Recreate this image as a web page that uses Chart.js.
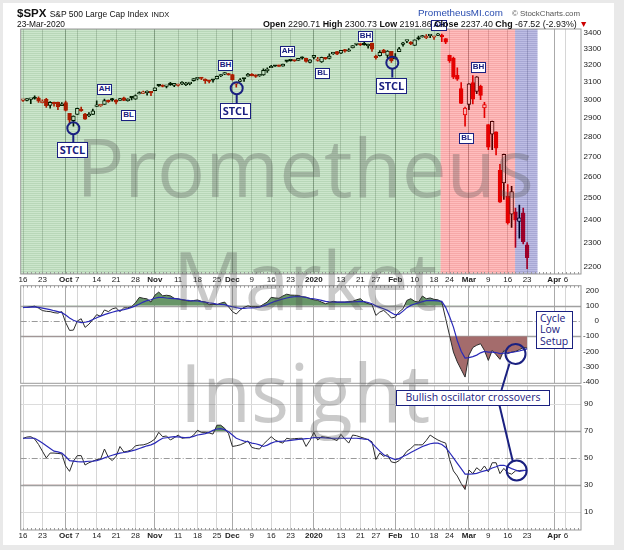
<!DOCTYPE html>
<html lang="en">
<head>
<meta charset="UTF-8">
<title>$SPX S&amp;P 500 Large Cap Index</title>
<script src="https://cdn.jsdelivr.net/npm/chart.js"></script>
<style>
  body { margin: 0; background: #e9e9e9; width: 624px; height: 550px; overflow: hidden; position: relative; }
  #frame { position: absolute; left: 3px; top: 3px; width: 611px; height: 542px; background: #fff; }
  canvas { position: absolute; left: 0; z-index: 1; }
  .t { position: absolute; white-space: nowrap; font-family: 'Liberation Sans', Arial, sans-serif; color: #111; z-index: 5; }
  .wm { position: absolute; left: 0; width: 610px; text-align: center; font-family: 'Open Sans', sans-serif;
        font-size: 80px; line-height: 80px; color: rgba(80, 80, 80, 0.3); z-index: 2; pointer-events: none; }
  #marks { position: absolute; left: 0; top: 0; z-index: 3; }
  .box { position: absolute; box-sizing: border-box; border: 1.5px solid #1a2080; background: #fff; color: #1a2080;
         font-family: 'Liberation Sans', Arial, sans-serif; font-weight: bold; text-align: center; z-index: 4; }
  .sm { width: 15px; height: 11px; font-size: 8px; line-height: 8px; }
  .stcl { width: 31px; height: 16px; font-size: 11px; line-height: 13px; font-family: 'Open Sans', sans-serif; }
  .note { font-family: 'Open Sans', sans-serif; font-weight: normal; font-size: 10.5px; }
</style>
</head>
<body>
<div id="frame"></div>

<div class="t" style="left:17px;top:7.6px;font-size:11.5px;line-height:11.5px"><b>$SPX</b> <span style="font-size:8.5px">S&amp;P 500 Large Cap Index</span> <span style="font-size:7.5px">INDX</span></div>
<div class="t" style="left:17px;top:20.2px;font-size:8.4px;line-height:8.4px">23-Mar-2020</div>
<div class="t" style="left:418px;top:8px;font-size:9.8px;line-height:9.8px;color:#2a4db0">PrometheusMI.com</div>
<div class="t" style="left:512px;top:9.5px;font-size:7.9px;line-height:7.9px;color:#555">&copy; StockCharts.com</div>
<div class="t" style="right:36px;top:19.8px;font-size:8.9px;line-height:8.9px"><b>Open</b> 2290.71 <b>High</b> 2300.73 <b>Low</b> 2191.86 <b>Close</b> 2237.40 <b>Chg</b> -67.52 (-2.93%) <span style="color:#c00">&#9660;</span></div>

<canvas id="price" width="624" height="288" style="top:0"></canvas>
<canvas id="cci" width="624" height="110" style="top:280px"></canvas>
<canvas id="rsi" width="624" height="172" style="top:378px"></canvas>

<div class="wm" style="top:126px">Prometheus</div>
<div class="wm" style="top:239px">Market</div>
<div class="wm" style="top:351px">Insight</div>

<svg id="marks" width="624" height="550">
  <g fill="none" stroke="#1a2080" stroke-width="2">
    <circle cx="73.3" cy="128.3" r="6"/><line x1="73.3" y1="134.3" x2="73.3" y2="142"/>
    <circle cx="236.7" cy="88.3" r="6"/><line x1="236.7" y1="94.3" x2="236.7" y2="103"/>
    <circle cx="392.3" cy="62.7" r="6"/><line x1="392.3" y1="68.7" x2="392.3" y2="77.5"/>
    <circle cx="515.5" cy="354" r="10"/>
    <circle cx="516.7" cy="470.5" r="10"/>
    <line x1="509.5" y1="363.5" x2="501.5" y2="390"/>
    <line x1="499.5" y1="405.5" x2="512.7" y2="461"/>
  </g>
</svg>

<div class="box sm" style="left:97px;top:84px">AH</div>
<div class="box sm" style="left:121px;top:110px">BL</div>
<div class="box stcl" style="left:57px;top:142px">STCL</div>
<div class="box sm" style="left:218px;top:60px">BH</div>
<div class="box stcl" style="left:220px;top:103px">STCL</div>
<div class="box sm" style="left:280px;top:46px">AH</div>
<div class="box sm" style="left:315px;top:68px">BL</div>
<div class="box sm" style="left:358px;top:31px">BH</div>
<div class="box stcl" style="left:376px;top:77.5px">STCL</div>
<div class="box sm" style="left:431px;top:20px;width:16px">AH</div>
<div class="box sm" style="left:471px;top:62px">BH</div>
<div class="box sm" style="left:459px;top:133px">BL</div>
<div class="box note" style="left:536px;top:311px;width:37px;height:37.5px;line-height:11.3px;text-align:left;padding:1px 0 0 3px">Cycle<br>Low<br>Setup</div>
<div class="box note" style="left:396px;top:389.5px;width:154px;height:16.5px;line-height:13px">Bullish oscillator crossovers</div>

<script>
// daily candles, 16-Sep-2019 .. 23-Mar-2020 (index = trading day)
const OPEN = [
  2996.4,2995.7,3001.5,3010.4,3008.4,2983.5,3002.4,2968.4,2985.7,2985.5,
  2967.1,2983.7,2924.8,2885.4,2918.6,2944.2,2920.4,2911.1,2918.6,2963.1,
  2965.8,2973.6,2989.7,3000.8,2996.8,2996.5,3010.7,2994.0,3014.8,3003.3,
  3032.1,3035.4,3039.7,3046.9,3050.7,3078.9,3080.8,3075.1,3087.0,3081.3,
  3080.3,3089.3,3084.2,3090.8,3107.9,3117.9,3127.5,3111.4,3108.5,3111.4,
  3117.4,3134.9,3145.5,3147.2,3143.9,3087.4,3103.5,3119.2,3134.6,3141.9,
  3135.4,3135.8,3141.2,3166.7,3183.6,3195.4,3195.2,3192.3,3223.3,3226.1,
  3225.5,3227.2,3247.2,3240.1,3215.2,3244.7,3226.4,3217.6,3241.9,3238.6,
  3266.0,3281.0,3271.1,3285.4,3282.3,3303.0,3323.7,3321.0,3330.0,3315.8,
  3333.1,3247.2,3255.4,3289.5,3256.5,3282.3,3235.7,3280.6,3324.9,3344.9,
  3335.5,3318.3,3365.9,3370.5,3365.9,3378.1,3369.0,3380.4,3380.5,3360.5,
  3257.6,3238.9,3139.9,3062.5,2916.9,2974.3,3096.5,3045.8,3075.7,2954.2,
  2863.9,2813.5,2825.6,2630.9,2570.0,2508.6,2425.7,2436.5,2393.5,2431.9,
  2290.7
];
const HIGH = [
  3002.2,3006.2,3007.8,3021.2,3016.4,2999.2,3007.3,2989.8,2987.3,2987.3,
  2983.9,2992.5,2924.8,2911.1,2953.7,2959.8,2925.5,2929.3,2948.5,2993.3,
  2972.8,3003.3,2997.5,3008.3,3000.0,3007.3,3014.6,3004.8,3016.1,3027.4,
  3044.1,3047.9,3050.1,3046.9,3066.9,3085.2,3083.9,3078.3,3097.8,3093.1,
  3088.3,3102.6,3098.1,3098.2,3120.5,3124.2,3127.6,3118.9,3110.1,3112.9,
  3133.8,3142.7,3154.3,3150.3,3144.3,3094.1,3119.4,3119.4,3150.6,3148.9,
  3142.1,3143.5,3176.3,3182.7,3197.7,3198.2,3198.5,3205.5,3225.6,3227.8,
  3226.4,3240.1,3247.9,3240.9,3231.7,3258.1,3246.2,3246.8,3244.9,3267.1,
  3275.6,3282.0,3288.1,3294.2,3298.7,3317.1,3329.9,3329.8,3337.8,3326.9,
  3333.2,3258.9,3285.8,3293.5,3285.9,3282.3,3268.4,3306.9,3337.6,3348.0,
  3341.4,3352.3,3375.6,3381.5,3385.1,3380.7,3375.0,3393.5,3389.2,3360.8,
  3259.8,3247.0,3182.5,3097.1,2959.7,3091.0,3136.7,3131.0,3083.0,2985.9,
  2863.9,2882.6,2825.6,2660.9,2711.3,2563.0,2553.9,2453.6,2467.0,2453.0,
  2300.7
];
const LOW = [
  2990.7,2993.7,2978.6,3003.2,2984.7,2982.2,2957.7,2952.9,2963.7,2945.5,
  2967.1,2938.7,2874.9,2855.9,2918.6,2935.7,2892.7,2907.4,2917.1,2963.1,
  2962.9,2973.6,2985.2,2991.8,2976.3,2995.4,2995.0,2991.2,2999.0,3001.9,
  3032.1,3034.8,3025.9,3023.2,3050.7,3074.9,3072.2,3065.9,3080.2,3073.6,
  3075.8,3084.7,3078.8,3083.3,3104.6,3112.1,3113.5,3091.4,3094.6,3099.3,
  3117.4,3131.0,3143.4,3139.3,3110.8,3070.3,3102.5,3103.8,3134.6,3135.5,
  3126.1,3133.2,3138.5,3156.5,3183.6,3191.0,3191.1,3192.3,3216.0,3222.3,
  3220.5,3227.2,3234.4,3216.6,3212.0,3235.5,3222.3,3214.6,3232.4,3236.7,
  3263.7,3260.9,3268.4,3277.2,3280.7,3302.8,3318.9,3316.6,3320.0,3301.9,
  3281.5,3234.5,3253.2,3271.9,3242.8,3214.7,3235.7,3280.6,3313.8,3334.4,
  3322.1,3317.8,3352.7,3369.7,3360.5,3366.2,3355.6,3378.8,3341.0,3328.5,
  3214.7,3118.8,3109.0,2977.4,2855.8,2945.2,2976.6,3034.4,2999.8,2901.5,
  2734.4,2734.0,2707.2,2478.9,2492.4,2380.9,2367.0,2280.5,2319.8,2295.6,
  2191.9
];
const CLOSE = [
  2998.0,3005.7,3006.7,3006.8,2992.1,2991.8,2966.6,2984.9,2977.6,2961.8,
  2976.7,2940.3,2887.6,2910.6,2952.0,2938.8,2893.1,2919.4,2938.1,2970.3,
  2966.2,2995.7,2989.7,2998.0,2986.2,3006.7,2996.0,3004.5,3010.3,3022.6,
  3039.4,3036.9,3046.8,3037.6,3066.9,3078.3,3074.6,3076.8,3085.2,3093.1,
  3087.0,3091.8,3094.0,3096.6,3120.5,3122.0,3120.2,3108.5,3103.5,3110.3,
  3133.6,3140.5,3153.6,3141.0,3113.9,3093.2,3112.8,3117.4,3145.9,3136.0,
  3132.5,3141.6,3168.6,3168.8,3191.5,3192.5,3191.1,3205.4,3221.2,3224.0,
  3223.4,3239.9,3240.0,3221.3,3230.8,3257.9,3234.9,3246.3,3237.2,3253.1,
  3274.7,3265.4,3288.1,3283.2,3289.3,3316.8,3329.6,3320.8,3321.8,3325.5,
  3295.5,3243.6,3276.2,3273.4,3283.7,3225.5,3248.9,3297.6,3334.7,3345.8,
  3327.7,3352.1,3357.8,3379.5,3373.9,3380.2,3370.3,3386.2,3373.2,3337.8,
  3225.9,3128.2,3116.4,2978.8,2954.2,3090.2,3003.4,3130.1,3023.9,2972.4,
  2746.6,2882.2,2741.4,2480.6,2711.0,2386.1,2529.2,2398.1,2409.4,2304.9,
  2237.4
];
const PREV_CLOSE = 3007.4;   // 13-Sep-2019, colours the first candle

// middle panel: oscillator (black) and its signal (blue)
const OSC = [
  88,90,94,98,85,69,64,62,55,52,
  62,-10,-62,-60,0,15,-42,-21,10,42,
  31,73,62,80,87,62,87,87,95,120,
  156,150,146,125,170,191,166,170,166,150,
  146,139,135,131,135,139,130,125,108,110,
  108,118,125,94,62,46,73,90,100,94,
  95,94,110,125,156,152,150,165,177,171,
  170,169,160,158,147,140,136,125,114,122,
  130,125,125,125,128,130,140,147,125,115,
  108,37,59,70,48,20,26,60,81,136,
  147,130,125,165,147,152,143,140,125,15,
  -95,-205,-270,-320,-370,-225,-175,-160,-150,-194,
  -260,-194,-222,-253,-195,-215,-205,-200,-190,-175,
  -178
];
const OSC_SIG = [
  90,90,92,93,90,85,80,75,68,62,
  55,40,20,5,-5,-10,-8,-2,10,22,
  32,42,50,58,65,70,75,82,90,100,
  112,125,135,140,150,156,155,152,150,148,
  146,142,138,135,133,132,128,125,120,116,
  112,110,108,100,94,88,83,84,86,87,
  88,92,100,108,120,130,138,145,152,157,
  160,162,160,155,150,147,142,136,130,127,
  125,125,125,125,125,126,128,130,128,122,
  114,100,90,81,70,55,40,45,65,88,
  103,112,120,128,134,136,135,133,130,90,
  30,-40,-130,-200,-245,-242,-235,-225,-210,-200,
  -205,-205,-208,-215,-212,-210,-207,-203,-198,-190,
  -184
];

// lower panel: RSI-style line (black) and its signal (blue)
const RSI = [
  64.5,65.5,65.8,64,60,55,50,53.6,53.6,53.3,
  53,44,40,47.6,51.7,51.7,44.7,46.4,47.5,48.8,
  49,56.6,50.5,48,51.2,58.5,54.4,55,56,59,
  59.5,59.7,60.5,62,64,69,65.8,66.3,63.3,65,
  67,64.6,65,65,67,70.5,69,69,68.5,67.7,
  74.3,74.3,72,68,58.5,59,59.7,61,62.6,57.8,
  57,56.6,60.2,63,65.8,63.3,62,61,64.6,64,
  64.3,64.5,64.6,58.5,63,69,63.3,65.8,65.4,65,
  64,62.9,67.5,64,61,67,66.5,65.5,64.6,63.5,
  62,48.8,53.6,51.2,52.4,47,46.4,48,51.2,54.9,
  57,59.7,59.7,59.7,63,67,65,63.3,62,61,
  48.8,40.3,36.5,31,26.5,41,38.3,42.7,40.3,44,
  39.6,46.4,46.4,38.3,42.2,39,37.9,40.3,40.6,40.8,
  40.3
];
const RSI_SIG = [
  64.6,64.6,64.8,64.6,63,61,59,57,55,54.5,
  53.6,51,48,47.6,47.2,47,47.2,47.5,47.6,48,
  48.8,50,51,52,52.8,53.6,54,54.5,55.2,56,
  57,58,59,59.7,61,63,64.6,65,65.4,65.8,
  65.6,65.3,65,65.2,66,67,67.5,68,69,70.5,
  71.5,71.8,71,69.4,67,64.6,63.5,62.5,62,61,
  60.5,59.7,58.5,59.5,61,62,62.3,62.4,62.6,63,
  63.4,63.8,64,64.3,64.6,65,65,65,64.8,64.6,
  64.6,64.6,64.6,64.6,64.6,64.6,64.6,64.4,64,63.8,
  61,58,55,52.4,51,49.8,48.8,49.5,51,52.4,
  54,55.5,57,58.5,59.5,60.5,61,61,60,57.8,
  54,50,46,42,38,37.9,38.1,38.5,39.5,40.3,
  41,42.5,43.4,44.5,44.5,43.4,42,41,40,40.5,
  41
];

// date axis (trading-day index of each label)
const TICK_IDX  = [0, 5, 11, 14, 19, 24, 29, 34, 40, 45, 50, 54, 59, 64, 69, 75, 82, 87, 91, 96, 101, 106, 110, 115, 120, 125, 130, 137, 140];
const TICK_TXT  = ['16','23','Oct','7','14','21','28','Nov','11','18','25','Dec','9','16','23','2020','13','21','27','Feb','10','18','24','Mar','9','16','23','Apr','6'];
const TICK_BOLD = TICK_TXT.map(t => isNaN(+t) || t === '2020');

const PRICE_TICKS = [2200, 2300, 2400, 2500, 2600, 2700, 2800, 2900, 3000, 3100, 3200, 3300, 3400];
const OSC_TICKS = [200, 100, 0, -100, -200, -300, -400];
const RSI_TICKS = [90, 70, 50, 30, 10];
const OSC_LEVELS = [100, 0, -100];
const RSI_LEVELS = [90, 70, 50, 30, 10];

// shaded phases on the price panel (in trading-day units)
const ZONE_FROM = [-0.6, 107.7, 126.9];
const ZONE_TO   = [107.7, 126.9, 132.7];

const FONT = "'Liberation Sans', Arial, sans-serif";
const X_MIN = -0.6, X_MAX = 143.9;
const RED = '#e00000', BLACK = '#000000';
const ZONE_BASE = ['rgba(0,128,0,0.20)', 'rgba(255,0,0,0.26)', 'rgba(0,0,150,0.26)'];
const ZONE_LINE = ['rgba(0,110,0,0.28)', 'rgba(230,0,0,0.34)', 'rgba(0,0,130,0.34)'];

function stripes(ctx, c1, c2) {
  const p = document.createElement('canvas');
  p.width = 4; p.height = 2;
  const g = p.getContext('2d');
  g.fillStyle = c1; g.fillRect(0, 0, 4, 1);
  g.fillStyle = c2; g.fillRect(0, 1, 4, 1);
  return ctx.createPattern(p, 'repeat');
}

const shadePlugin = {
  id: 'shade',
  afterDatasetsDraw(chart) {
    const {ctx, chartArea: a, scales: {x}} = chart;
    ctx.save();
    ctx.beginPath();
    ctx.rect(a.left, a.top, a.right - a.left, a.bottom - a.top);
    ctx.clip();
    ZONE_FROM.forEach((f, k) => {
      const x1 = x.getPixelForValue(f), x2 = x.getPixelForValue(ZONE_TO[k]);
      ctx.fillStyle = stripes(ctx, ZONE_BASE[k], ZONE_LINE[k]);
      ctx.fillRect(x1, a.top, x2 - x1, a.bottom - a.top);
    });
    ctx.restore();
  }
};

const levelPlugin = {
  id: 'levels',
  beforeDatasetsDraw(chart, args, opts) {
    const {ctx, chartArea: a, scales: {y}} = chart;
    (opts.values || []).forEach((v, k) => {
      const st = opts.styles[k];
      const py = Math.round(y.getPixelForValue(v)) + 0.5;
      ctx.save();
      ctx.strokeStyle = st.c; ctx.lineWidth = st.w; ctx.setLineDash(st.d || []);
      ctx.beginPath(); ctx.moveTo(a.left, py); ctx.lineTo(a.right, py); ctx.stroke();
      ctx.restore();
    });
  }
};

const framePlugin = {
  id: 'frame',
  afterDraw(chart, args, opts) {
    const {ctx, chartArea: a, scales: {x}} = chart;
    ctx.save();
    ctx.strokeStyle = '#9a9a9a'; ctx.lineWidth = 1;
    ctx.strokeRect(a.left, a.top, a.right - a.left, a.bottom - a.top);
    if (opts.ticks) {
      ctx.strokeStyle = '#999';
      const y0 = opts.ticks === 'top' ? a.top : a.bottom;
      const dy = opts.ticks === 'top' ? 2 : -2;
      for (let i = 0; i <= Math.floor(x.max); i++) {
        const px = Math.round(x.getPixelForValue(i)) + 0.5;
        ctx.beginPath(); ctx.moveTo(px, y0); ctx.lineTo(px, y0 + dy); ctx.stroke();
      }
    }
    ctx.restore();
  }
};

function xAxis(showLabels) {
  return {
    type: 'linear', min: X_MIN, max: X_MAX, offset: false,
    afterBuildTicks: s => { s.ticks = TICK_IDX.map(v => ({value: v})); },
    afterFit: s => { s.height = showLabels ? 14 : 0; },
    grid: { offset: false, drawTicks: false, lineWidth: 1,
            color: c => TICK_BOLD[c.index] ? '#aaaaaa' : '#d6d6d6' },
    border: { display: false },
    ticks: { display: showLabels, autoSkip: false, maxRotation: 0, padding: 1, color: '#222',
             font: c => ({ family: FONT, size: 8, weight: TICK_BOLD[c.index] ? 'bold' : 'normal' }),
             callback: (v, i) => TICK_TXT[i] }
  };
}

function yAxis(width, opts) {
  return Object.assign({
    position: 'right',
    afterFit: s => { s.width = width; },
    grid: { display: false, drawTicks: false },
    border: { display: false },
  }, opts);
}

// ----- price panel -----
const candleCol = CLOSE.map((c, i) => c >= (i ? CLOSE[i - 1] : PREV_CLOSE) ? BLACK : RED);
const bodyFill = CLOSE.map((c, i) => c > OPEN[i] ? '#ffffff' : candleCol[i]);
const bodies = CLOSE.map((c, i) => ({x: i, y: [Math.min(OPEN[i], c), Math.max(OPEN[i], c)]}));
const wicks = LOW.map((l, i) => ({x: i, y: [l, HIGH[i]]}));

new Chart(document.getElementById('price'), {
  type: 'bar',
  data: {
    datasets: [
      { data: bodies, backgroundColor: bodyFill, borderColor: candleCol, borderWidth: 1,
        barThickness: 3.8, grouped: false, borderSkipped: false, minBarLength: 1.5, order: 1 },
      { data: wicks, backgroundColor: candleCol, borderWidth: 0,
        barThickness: 1, grouped: false, borderSkipped: false, order: 2 }
    ]
  },
  options: {
    responsive: false, animation: false, events: [],
    layout: { padding: { left: 20.7, top: 29, right: 0, bottom: 0 } },
    plugins: { legend: { display: false }, tooltip: { enabled: false }, frame: { ticks: 'bottom' } },
    scales: {
      x: xAxis(true),
      y: yAxis(43, {
        type: 'logarithmic', min: 2170.4, max: 3420.9, beginAtZero: false,
        afterBuildTicks: s => { s.ticks = PRICE_TICKS.map(v => ({value: v})); },
        ticks: { font: { family: FONT, size: 8 }, color: '#222', padding: 2.5, callback: v => String(v) }
      })
    }
  },
  plugins: [shadePlugin, framePlugin]
});

// ----- oscillator panels -----
const pts = arr => arr.map((v, i) => ({x: i, y: v}));
const GREEN_FILL = 'rgb(104,150,104)';
const BROWN_FILL = 'rgb(164,108,108)';
const NONE = 'rgba(0,0,0,0)';

function oscChart(id, main, sig, hi, lo, yCfg, levels, levelStyles, frameTicks, showLabels, pad) {
  new Chart(document.getElementById(id), {
    type: 'line',
    data: {
      datasets: [
        { data: pts(sig), borderColor: '#2a2ab8', borderWidth: 1.2, pointRadius: 0, tension: 0, fill: false, order: 1 },
        { data: pts(main), borderColor: '#2b2b2b', borderWidth: 1, pointRadius: 0, tension: 0,
          fill: { target: { value: hi }, above: GREEN_FILL, below: NONE }, order: 2 },
        { data: pts(main), borderColor: NONE, borderWidth: 0, pointRadius: 0, tension: 0,
          fill: { target: { value: lo }, above: NONE, below: BROWN_FILL }, order: 3 }
      ]
    },
    options: {
      responsive: false, animation: false, events: [],
      layout: { padding: pad },
      plugins: { legend: { display: false }, tooltip: { enabled: false },
                 frame: { ticks: frameTicks }, levels: { values: levels, styles: levelStyles } },
      scales: { x: xAxis(showLabels), y: yCfg }
    },
    plugins: [levelPlugin, framePlugin]
  });
}

const SOLID = { c: '#a0a0a0', w: 1.5 };
const DASHDOT = { c: '#9a9a9a', w: 1, d: [6, 2, 1, 2] };
const FAINT = { c: '#dcdcdc', w: 1 };

// labels right-aligned at x = 599
oscChart('cci', OSC, OSC_SIG, 100, -100, yAxis(18, {
  type: 'linear', min: -411, max: 233,
  afterBuildTicks: s => { s.ticks = OSC_TICKS.map(v => ({value: v})); },
  ticks: { font: { family: FONT, size: 8 }, color: '#222', padding: 0, crossAlign: 'far' }
}), OSC_LEVELS, [SOLID, DASHDOT, SOLID], 'top', false,
{ left: 20.7, top: 5.7, right: 25, bottom: 6.7 });

oscChart('rsi', RSI, RSI_SIG, 70, 30, yAxis(43, {
  type: 'linear', min: -3.6, max: 103.6,
  afterBuildTicks: s => { s.ticks = RSI_TICKS.map(v => ({value: v})); },
  ticks: { font: { family: FONT, size: 8 }, color: '#222', padding: 3 }
}), RSI_LEVELS, [FAINT, SOLID, DASHDOT, SOLID, FAINT], 'bottom', true,
{ left: 20.7, top: 5.3, right: 0, bottom: 6 });
</script>
</body>
</html>
